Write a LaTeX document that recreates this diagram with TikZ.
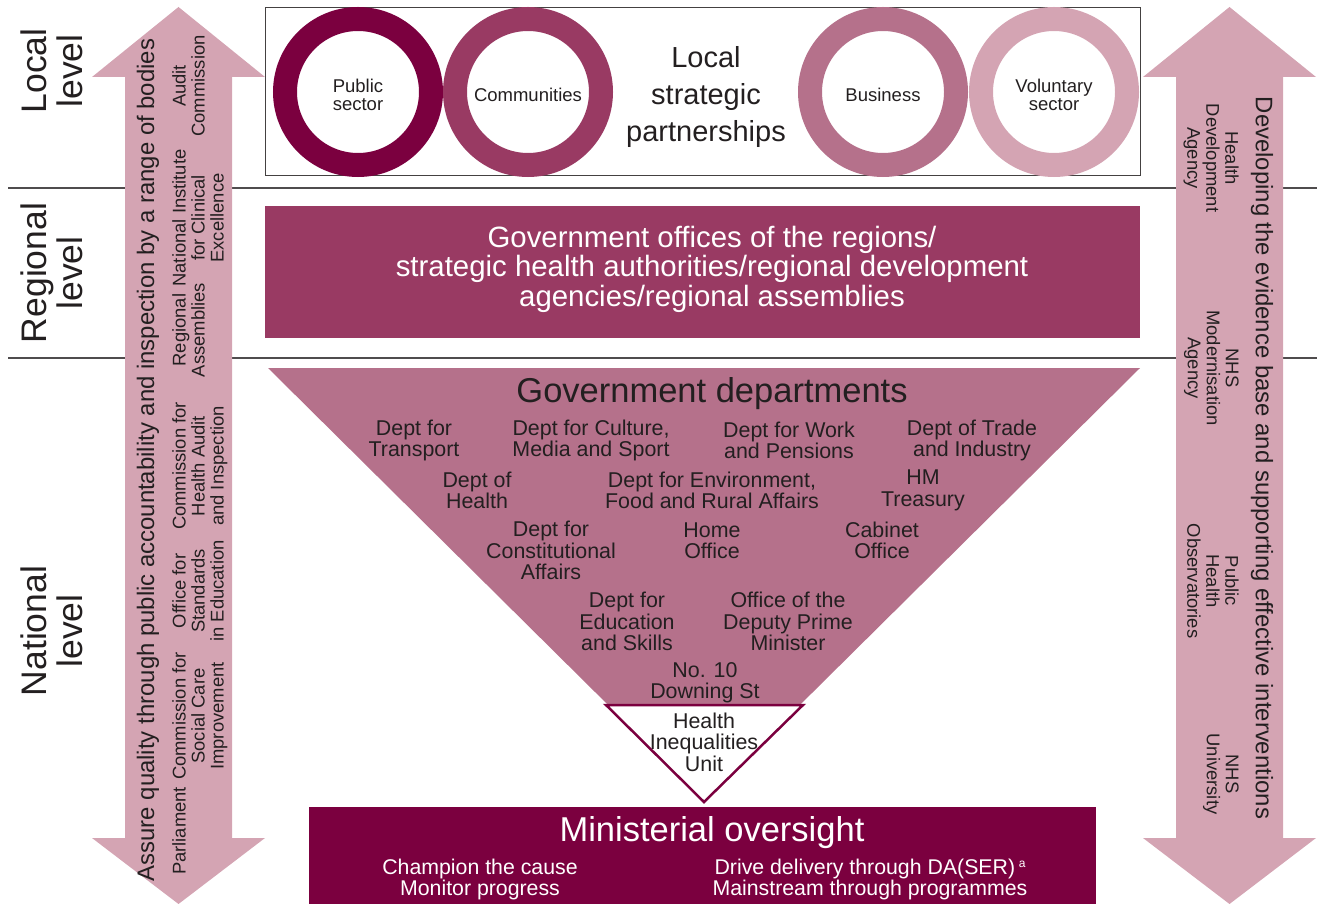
\documentclass[tikz,border=0pt]{standalone}
\usepackage{fontspec}
\setmainfont{Liberation Sans}
\definecolor{cA}{HTML}{7B003F}
\definecolor{cB}{HTML}{993A63}
\definecolor{cC}{HTML}{B5718B}
\definecolor{cD}{HTML}{D4A4B3}
\definecolor{txt}{HTML}{231F20}
\newcommand{\fsz}[2]{\fontsize{#1}{#2}\selectfont}
\begin{document}
\begin{tikzpicture}[x=1pt,y=-1pt,
  every node/.style={inner sep=0pt, text=txt, align=center},
  lvl/.style={font=\fsz{35.5}{36.5}, rotate=90},
  ring/.style={line width=24pt},
  ringtxt/.style={font=\fsz{18.5}{18.5}},
  dept/.style={font=\fsz{21.4}{21.5}},
  lside/.style={font=\fsz{18.4}{19}, rotate=90, anchor=north},
  rside/.style={font=\fsz{18.4}{19}, rotate=-90, anchor=north},
  bigarrow/.style={fill=cD},
  sep/.style={draw=txt!80, line width=1.1pt}
  ]
\useasboundingbox (0,0) rectangle (1323,904);
% separator lines
\coordinate (s1a) at (8,188); \coordinate (s1b) at (1317,188);
\coordinate (s2a) at (8,358); \coordinate (s2b) at (1317,358);
\draw[sep] (s1a) -- (s1b);
\draw[sep] (s2a) -- (s2b);
% level labels
\node[lvl] (loc) at (52,71) {Local\\level};
\node[lvl] (reg) at (52,273) {Regional\\level};
\node[lvl] (nat) at (52,631) {National\\level};
% left double arrow
\fill[bigarrow] (178.5,7) -- (265,77) -- (232,77) -- (232,838) -- (265,838) -- (178.5,904)
  -- (92,838) -- (125,838) -- (125,77) -- (92,77) -- cycle;
% right double arrow
\fill[bigarrow] (1229.5,7) -- (1316,77) -- (1283,77) -- (1283,838) -- (1316,838) -- (1229.5,904)
  -- (1143,838) -- (1176,838) -- (1176,77) -- (1143,77) -- cycle;
% arrow texts
\node[font=\fsz{23.9}{24}, rotate=90] (lmain) at (148,460) {Assure quality through public accountability and inspection by a range of bodies};
\node[font=\fsz{23.9}{24}, rotate=-90] (rmain) at (1262,458) {Developing the evidence base and supporting effective interventions};
\node[lside] (l1) at (172,831) {Parliament};
\node[lside] (l2) at (172,716) {Commission for\\Social Care\\Improvement};
\node[lside] (l3) at (172,591) {Office for\\Standards\\in Education};
\node[lside] (l4) at (172,466) {Commission for\\Health Audit\\and Inspection};
\node[lside] (l5) at (172,330) {Regional\\Assemblies};
\node[lside] (l6) at (172,218) {National Institute\\for Clinical\\Excellence};
\node[lside] (l7) at (172,86) {Audit\\Commission};
\node[rside] (r1) at (1239,158) {Health\\Development\\Agency};
\node[rside] (r2) at (1239,368) {NHS\\Modernisation\\Agency};
\node[rside] (r3) at (1239,581) {Public\\Health\\Observatories};
\node[rside] (r4) at (1239,774) {NHS\\University};
% local box
\node[draw=txt!85, line width=1pt, minimum width=875, minimum height=168] (localbox) at (702.5,92) {};
\draw[ring, cA] (358,92) circle (73);
\draw[ring, cB] (528,92) circle (73);
\draw[ring, cC] (883,92) circle (73);
\draw[ring, cD] (1054,92) circle (73);
\node[ringtxt] (pub) at (358,95) {Public\\sector};
\node[ringtxt] (com) at (528,95) {Communities};
\node[ringtxt] (bus) at (883,95) {Business};
\node[ringtxt] (vol) at (1054,95) {Voluntary\\sector};
\node[font=\fsz{29}{37}] (lsp) at (706,97) {Local\\strategic\\partnerships};
% regional box
\node[fill=cB, minimum width=875, minimum height=132] (regbox) at (702.5,272) {};
\node[font=\fsz{29.4}{29.5}, text=white] (regtxt) at (712,269) {Government offices of the regions/\\strategic health authorities/regional development\\agencies/regional assemblies};
% triangle
\fill[cC] (268,368) -- (1140,368) -- (704,800) -- cycle;
\draw[fill=white, draw=cA, line width=2.5pt, line join=miter] (606,705) -- (803,705) -- (704,802) -- cycle;
\node[font=\fsz{34.5}{35}] (gd) at (712,394) {Government departments};
\node[dept] (t1) at (414,440.5) {Dept for\\Transport};
\node[dept] (t2) at (591,440.5) {Dept for Culture,\\Media and Sport};
\node[dept] (t3) at (789,440.5) {Dept for Work\\and Pensions};
\node[dept] (t4) at (972,440.5) {Dept of Trade\\and Industry};
\node[dept] (t5) at (477,490.5) {Dept of\\Health};
\node[dept] (t6) at (712,490.5) {Dept for Environment,\\Food and Rural Affairs};
\node[dept] (t7) at (923,490.5) {HM\\Treasury};
\node[dept] (t8) at (551,550.5) {Dept for\\Constitutional\\Affairs};
\node[dept] (t9) at (712,540.5) {Home\\Office};
\node[dept] (t10) at (882,540.5) {Cabinet\\Office};
\node[dept] (t11) at (627,621.5) {Dept for\\Education\\and Skills};
\node[dept] (t12) at (788,621.5) {Office of the\\Deputy Prime\\Minister};
\node[dept] (t13) at (705,682.5) {No. 10\\Downing St};
\node[dept] (hiu) at (704,742) {Health\\Inequalities\\Unit};
% ministerial box
\node[fill=cA, minimum width=787, minimum height=97] (minbox) at (702.5,855.5) {};
\node[font=\fsz{34.5}{35}, text=white] (mo) at (712,833) {Ministerial oversight};
\node[font=\fsz{21.3}{21.5}, text=white] (ml) at (480,879.5) {Champion the cause\\Monitor progress};
\node[font=\fsz{21.3}{21.5}, text=white] (mr) at (870,879.5) {Drive delivery through DA(SER)\,{\fsz{12}{12}\raisebox{7pt}{a}}\\Mainstream through programmes};
\end{tikzpicture}
\end{document}
